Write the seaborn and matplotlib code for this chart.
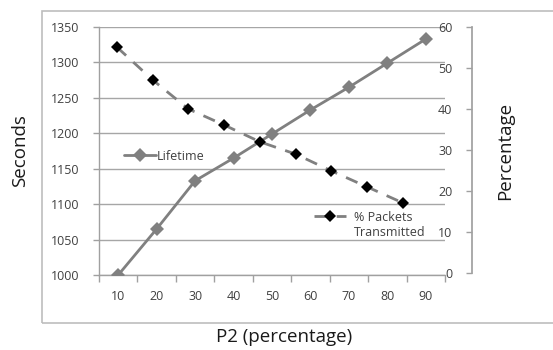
import matplotlib
matplotlib.use("Agg")
import matplotlib.pyplot as plt
import seaborn as sns
import pandas as pd
from matplotlib.patches import Rectangle
from matplotlib.lines import Line2D

categories = [10, 20, 30, 40, 50, 60, 70, 80, 90]
lifetime = [1000, 1065, 1133, 1165, 1199, 1233, 1265, 1299, 1333]
packets = [55.1, 47.1, 40.0, 36.1, 32.0, 29.0, 24.9, 21.0, 17.1]
left_ticks = [1000, 1050, 1100, 1150, 1200, 1250, 1300, 1350]
right_ticks = [0, 10, 20, 30, 40, 50, 60]

sns.set_theme(style="white")
plt.rcParams['font.family'] = ['Open Sans', 'DejaVu Sans']

W, H = 553, 350
fig = plt.figure(figsize=(W / 100, H / 100), dpi=100)

def rect(x0, y0, x1, y1):
    return [x0 / W, (H - y1) / H, (x1 - x0) / W, (y1 - y0) / H]

# outer frame
fig.patches.append(Rectangle((42 / W, (H - 323) / H), 1.2, (323 - 11) / H,
                             transform=fig.transFigure, fill=False,
                             edgecolor='#bdbdbd', linewidth=1.2, zorder=0))

df = pd.DataFrame({'pos': range(len(categories)), 'cat': categories,
                   'lifetime': lifetime, 'packets': packets})

grey = '#808080'
tickc = '#404040'
fs = 9

# primary axes
ax = fig.add_axes(rect(99, 27, 445, 275))
ax.set_facecolor('none')
sns.lineplot(data=df, x='pos', y='lifetime', ax=ax, color=grey, linewidth=2,
             marker='D', markersize=7, markeredgewidth=0, label='Lifetime',
             zorder=3, legend=False)
ax.set_xlim(-0.5, len(categories) - 0.5)
ax.set_ylim(1000, 1350)
ax.set_yticks(left_ticks)
ax.set_yticklabels([str(t) for t in left_ticks], fontsize=fs, color=tickc)
ax.set_xticks(range(len(categories)))
ax.set_xticklabels([str(c) for c in categories], fontsize=fs, color=tickc)
ax.set_xticks([i - 0.5 for i in range(len(categories) + 1)], minor=True)
ax.tick_params(axis='x', which='major', length=0, pad=11)
ax.tick_params(axis='x', which='minor', length=5, width=1, color='#a0a0a0',
               direction='out', bottom=True)
ax.tick_params(axis='y', length=4, width=1, color='#a0a0a0', direction='out',
               left=True, pad=10)
ax.grid(axis='y', color='#a6a6a6', linewidth=1)
ax.grid(axis='x', visible=False)
for s in ['top', 'right']:
    ax.spines[s].set_visible(False)
for s in ['left', 'bottom']:
    ax.spines[s].set_color('#a0a0a0')
    ax.spines[s].set_linewidth(1)
ax.set_xlabel('')
ax.set_ylabel('')

# secondary data axes (separate x scale)
ax2 = fig.add_axes(rect(99, 27, 445, 275))
ax2.set_facecolor('none')
sns.lineplot(data=df, x='pos', y='packets', ax=ax2, color=grey, linewidth=2,
             linestyle=(0, (4.5, 3.5)), marker='D', markersize=6.5,
             markerfacecolor='black', markeredgecolor='black',
             markeredgewidth=0, label='% Packets', zorder=4,
             legend=False)
ax2.set_xlim(-0.5, -0.5 + 346 / 35.75)
ax2.set_ylim(-60 * 2 / 246, 60)
ax2.axis('off')

# right axis (stand-alone)
axr = fig.add_axes(rect(472, 27, 480, 273))
axr.set_facecolor('none')
axr.set_ylim(0, 60)
axr.set_yticks(right_ticks)
axr.set_yticklabels([str(t) for t in right_ticks], fontsize=fs, color=tickc)
axr.set_xticks([])
axr.tick_params(axis='y', length=4, width=1, color='#a0a0a0', direction='out',
                left=True, pad=10)
for s in ['top', 'right', 'bottom']:
    axr.spines[s].set_visible(False)
axr.spines['left'].set_color('#a0a0a0')

# legends
h1, l1 = ax.get_legend_handles_labels()
ax.legend(h1, l1, loc='center left', bbox_to_anchor=(115 / W, (H - 156) / H),
          bbox_transform=fig.transFigure, frameon=False, fontsize=fs,
          handlelength=2.6, handletextpad=0.05, borderpad=0.2,
          labelcolor=tickc)

h2, l2 = ax2.get_legend_handles_labels()
blank = Line2D([], [], linestyle='none', marker=None)
ax2.legend([h2[0], blank], [l2[0], 'Transmitted'], loc='upper left',
           bbox_to_anchor=(305 / W, (H - 202) / H),
           bbox_transform=fig.transFigure, frameon=False, fontsize=fs,
           handlelength=2.6, handletextpad=0.6, borderpad=0.2,
           labelspacing=0.15, labelcolor=tickc)

# axis titles
fig.text(20 / W, (H - 151) / H, 'Seconds', rotation=90, ha='center', va='center',
         fontsize=13.5, color='#1a1a1a')
fig.text(505 / W, (H - 151) / H, 'Percentage', rotation=90, ha='center',
         va='center', fontsize=13.5, color='#1a1a1a')
fig.text(284 / W, (H - 337) / H, 'P2 (percentage)', ha='center', va='center',
         fontsize=13.5, color='#1a1a1a')

fig.savefig('out.png', dpi=100, facecolor='white')
